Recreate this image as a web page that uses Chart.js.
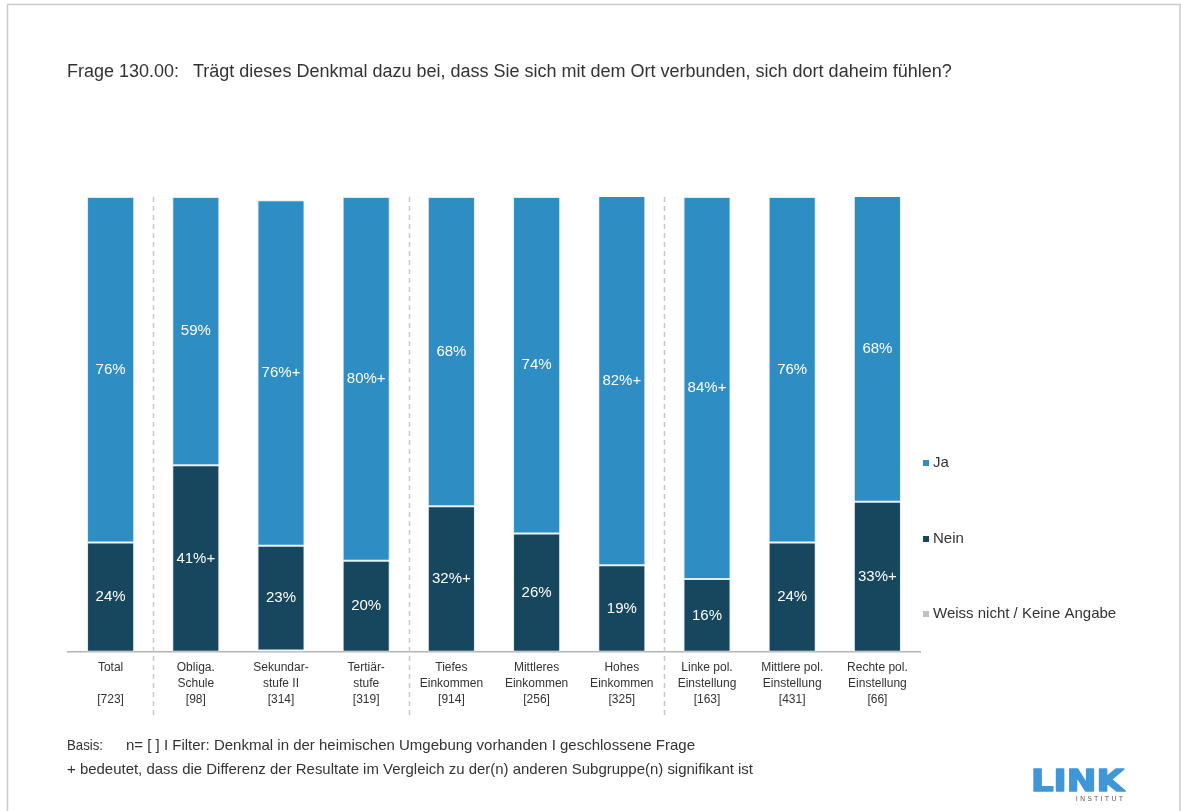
<!DOCTYPE html>
<html>
<head>
<meta charset="utf-8">
<script src="https://cdn.jsdelivr.net/npm/chart.js@4.4.1/dist/chart.umd.min.js"></script>
<style>
  html, body { margin: 0; padding: 0; background: #fff; }
  canvas { display: block; }
</style>
</head>
<body>
<canvas id="myChart" width="1181" height="811"></canvas>
<script>
// Groups on the x axis (two text lines + sample size)
const groupLine1 = ['Total', 'Obliga.', 'Sekundar-', 'Tertiär-', 'Tiefes', 'Mittleres', 'Hohes', 'Linke pol.', 'Mittlere pol.', 'Rechte pol.'];
const groupLine2 = ['', 'Schule', 'stufe II', 'stufe', 'Einkommen', 'Einkommen', 'Einkommen', 'Einstellung', 'Einstellung', 'Einstellung'];
const groupN = ['[723]', '[98]', '[314]', '[319]', '[914]', '[256]', '[325]', '[163]', '[431]', '[66]'];

// Shares in %
const jaValues = [76, 59, 76, 80, 68, 74, 82, 84, 76, 68];
const neinValues = [24, 41, 23, 20, 32, 26, 19, 16, 24, 33];
const weissValues = [0, 0, 0.3, 0, 0, 0, 0, 0, 0, 0];

// '+' = significant difference
const jaSig = [false, false, true, true, false, false, true, true, false, false];
const neinSig = [false, true, false, false, true, false, false, false, false, true];

// dashed separators after these group indexes
const separatorsAfter = [0, 3, 6];

const legendNames = ['Ja', 'Nein', 'Weiss nicht / Keine Angabe'];
const colorJa = '#2e8ec3';
const colorNein = '#17475f';
const colorWeiss = '#bfbfbf';

const FONT = '"Liberation Sans", Arial, sans-serif';
const TEXT = '#333333';

const labels = groupLine1.map((l, i) => [l, groupLine2[i], groupN[i]]);

// Frame, title, footer, logo, separators, legend
const decorPlugin = {
    id: 'decor',
    beforeDraw(chart) {
        const ctx = chart.ctx;
        ctx.save();
        ctx.fillStyle = '#fff';
        ctx.fillRect(0, 0, chart.width, chart.height);

        // frame
        ctx.strokeStyle = '#cccccc';
        ctx.lineWidth = 1.5;
        ctx.beginPath();
        ctx.moveTo(7.5, 820);
        ctx.lineTo(7.5, 4.5);
        ctx.lineTo(1180, 4.5);
        ctx.lineTo(1180, 820);
        ctx.stroke();

        // title
        ctx.fillStyle = TEXT;
        ctx.textBaseline = 'middle';
        ctx.font = '18px ' + FONT;
        ctx.fillText('Frage 130.00:', 67, 72);
        ctx.fillText('Trägt dieses Denkmal dazu bei, dass Sie sich mit dem Ort verbunden, sich dort daheim fühlen?', 193, 72, 760);

        // footer (narrow set)
        ctx.font = '15px ' + FONT;
        ctx.fillText('Basis:', 67, 746, 36);
        ctx.fillText('n= [ ] I Filter: Denkmal in der heimischen Umgebung vorhanden I geschlossene Frage', 126, 746, 575);
        ctx.fillText('+ bedeutet, dass die Differenz der Resultate im Vergleich zu der(n) anderen Subgruppe(n) signifikant ist', 67, 770, 686);

        // logo
        const grad = ctx.createLinearGradient(0, 770, 0, 792);
        grad.addColorStop(0, '#3f97da');
        grad.addColorStop(1, '#1c4c9c');
        ctx.fillStyle = grad;
        ctx.strokeStyle = grad;
        ctx.lineWidth = 1.6;
        ctx.lineJoin = 'round';
        ctx.font = 'bold 30px "DejaVu Sans", sans-serif';
        ctx.textBaseline = 'alphabetic';
        const w = ctx.measureText('LINK').width;
        ctx.save();
        ctx.translate(1031, 791);
        ctx.scale(93 / w, 1);
        ctx.fillText('LINK', 0, 0);
        ctx.strokeText('LINK', 0, 0);
        ctx.restore();
        ctx.fillStyle = '#666';
        ctx.font = '7px "DejaVu Sans", sans-serif';
        ctx.textAlign = 'right';
        ctx.fillText('I N S T I T U T', 1123, 801);
        ctx.restore();
    },
    afterDraw(chart) {
        const ctx = chart.ctx;
        const xs = chart.scales.x;
        const area = chart.chartArea;
        ctx.save();

        // dashed separators between group blocks
        ctx.strokeStyle = '#c8c8c8';
        ctx.lineWidth = 1.5;
        ctx.setLineDash([5, 4]);
        separatorsAfter.forEach(i => {
            const x = Math.round((xs.getPixelForValue(i) + xs.getPixelForValue(i + 1)) / 2) + 0.5;
            ctx.beginPath();
            ctx.moveTo(x, area.top);
            ctx.lineTo(x, 716);
            ctx.stroke();
        });
        ctx.setLineDash([]);

        // legend
        const legendColors = [colorJa, colorNein, colorWeiss];
        const legendY = [463, 539, 614];
        ctx.font = '15px ' + FONT;
        ctx.textBaseline = 'middle';
        legendNames.forEach((name, i) => {
            ctx.fillStyle = legendColors[i];
            ctx.fillRect(923, legendY[i] - 3, 6, 6);
            ctx.fillStyle = TEXT;
            ctx.fillText(name, 933, legendY[i]);
        });

        // value labels in the segments
        ctx.font = '15px ' + FONT;
        ctx.fillStyle = '#ffffff';
        ctx.textAlign = 'center';
        const sets = [[1, neinValues, neinSig], [2, jaValues, jaSig]];
        sets.forEach(([dsIndex, values, sig]) => {
            const meta = chart.getDatasetMeta(dsIndex);
            meta.data.forEach((bar, i) => {
                const top = Math.max(bar.y, area.top);
                const y = (top + bar.base) / 2;
                ctx.fillText(values[i] + '%' + (sig[i] ? '+' : ''), bar.x, y);
            });
        });
        ctx.restore();
    }
};

const ctx = document.getElementById('myChart').getContext('2d');

new Chart(ctx, {
    type: 'bar',
    data: {
        labels: labels,
        datasets: [
            { label: legendNames[2], data: weissValues, backgroundColor: colorWeiss },
            { label: legendNames[1], data: neinValues, backgroundColor: colorNein },
            { label: legendNames[0], data: jaValues, backgroundColor: colorJa }
        ]
    },
    options: {
        responsive: false,
        animation: false,
        devicePixelRatio: 1,
        layout: {
            padding: { left: 68, right: 261, top: 197, bottom: 95 }
        },
        datasets: {
            bar: {
                barPercentage: 1,
                categoryPercentage: 0.553,
                borderWidth: 1,
                borderColor: 'rgba(210, 230, 242, 0.75)',
                borderSkipped: false
            }
        },
        plugins: {
            legend: { display: false },
            tooltip: { enabled: false }
        },
        scales: {
            x: {
                stacked: true,
                grid: { display: false, drawTicks: false },
                border: { display: true, color: '#b4b4b4', width: 1.5 },
                ticks: {
                    padding: 8,
                    color: TEXT,
                    font: { family: FONT, size: 12, lineHeight: 1.34 },
                    maxRotation: 0,
                    autoSkip: false
                }
            },
            y: {
                display: false,
                stacked: true,
                min: 0,
                max: 100
            }
        }
    },
    plugins: [decorPlugin]
});
</script>
</body>
</html>
